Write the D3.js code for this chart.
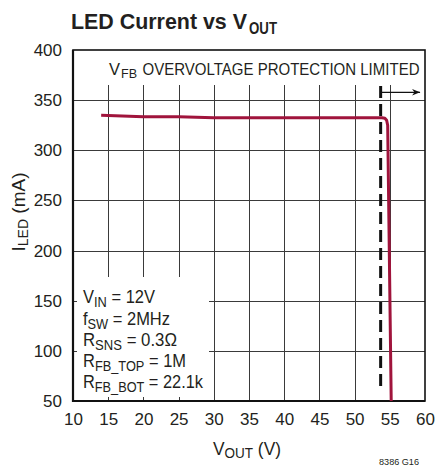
<!DOCTYPE html>
<html><head><meta charset="utf-8">
<script src="https://cdn.jsdelivr.net/npm/d3@7"></script>
<style>
html,body{margin:0;padding:0;background:#fff;}
svg{display:block;}
text{font-family:"Liberation Sans",Arial,sans-serif;fill:#231f20;}
</style></head>
<body>
<script>
// ---- data ----
const xTicks = [10, 15, 20, 25, 30, 35, 40, 45, 50, 55, 60];
const yTicks = [50, 100, 150, 200, 250, 300, 350, 400];
const vout = [14, 20, 25, 30, 35, 40, 45, 50, 53.9, 54.3, 54.55, 54.7, 55.2];
const iled = [335, 333.5, 333.5, 332.5, 332.5, 332.5, 332.5, 332.5, 332.5, 332, 330, 325, 50];
const limitV = 53.7;
const limitRange = [364, 63];
const arrowV = [53.8, 59.3];
const arrowI = 357.8;
const conditions = [
  [["V"], ["IN", 1], [" = 12V"]],
  [["f"], ["SW", 1], [" = 2MHz"]],
  [["R"], ["SNS", 1], [" = 0.3Ω"]],
  [["R"], ["FB_TOP", 1], [" = 1M"]],
  [["R"], ["FB_BOT", 1], [" = 22.1k"]]
];

const W = 435, H = 469;
const svg = d3.select("body").append("svg").attr("width", W).attr("height", H);
const x = d3.scaleLinear().domain([10, 60]).range([73, 425]);
const y = d3.scaleLinear().domain([50, 400]).range([401, 50]);

function richText(t, parts, subSize, subDy) {
  let shifted = false;
  parts.forEach(p => {
    const ts = t.append("tspan").text(p[0]);
    if (p[1]) { ts.attr("font-size", subSize).attr("dy", subDy); shifted = true; }
    else if (shifted) { ts.attr("dy", -subDy); shifted = false; }
  });
  return t;
}
function fitText(xp, yp, str, size, width, extra) {
  const t = svg.append("text").attr("x", xp).attr("y", yp).attr("font-size", size)
    .attr("textLength", width).attr("lengthAdjust", "spacingAndGlyphs").text(str);
  if (extra) Object.entries(extra).forEach(([k, v]) => t.attr(k, v));
  return t;
}

// grid
const grid = svg.append("g").attr("stroke", "#3a3a3a").attr("stroke-width", 1);
xTicks.slice(1, -1).forEach(v => {
  grid.append("line").attr("x1", Math.round(x(v)) + 0.5).attr("x2", Math.round(x(v)) + 0.5)
    .attr("y1", y(400)).attr("y2", y(50));
});
yTicks.slice(1, -1).forEach(v => {
  grid.append("line").attr("y1", Math.round(y(v)) + 0.5).attr("y2", Math.round(y(v)) + 0.5)
    .attr("x1", x(10)).attr("x2", x(60));
});
// white regions for annotations
svg.append("rect").attr("x", x(10)).attr("y", y(400)).attr("width", x(60) - x(10)).attr("height", 35).attr("fill", "#fff");
svg.append("rect").attr("x", x(10)).attr("y", 277).attr("width", 136).attr("height", y(50) - 277).attr("fill", "#fff");
// short ticks inside box
const tk = svg.append("g").attr("stroke", "#3a3a3a").attr("stroke-width", 1);
[15, 20, 25].forEach(v => tk.append("line").attr("x1", Math.round(x(v)) + 0.5).attr("x2", Math.round(x(v)) + 0.5).attr("y1", y(50) - 4).attr("y2", y(50)));
[100, 150].forEach(v => tk.append("line").attr("y1", Math.round(y(v)) + 0.5).attr("y2", Math.round(y(v)) + 0.5).attr("x1", x(10)).attr("x2", x(10) + 4));

// frame
svg.append("rect").attr("x", x(10)).attr("y", y(400)).attr("width", x(60) - x(10)).attr("height", y(50) - y(400))
  .attr("fill", "none").attr("stroke", "#111").attr("stroke-width", 1.6);
svg.append("line").attr("x1", x(10)).attr("x2", x(10)).attr("y1", y(400)).attr("y2", y(50) + 1).attr("stroke", "#111").attr("stroke-width", 2.2);
svg.append("line").attr("x1", x(10)).attr("x2", x(60)).attr("y1", y(50)).attr("y2", y(50)).attr("stroke", "#111").attr("stroke-width", 2.2);

// axes tick labels
const xAxis = d3.axisBottom(x).tickValues(xTicks).tickSize(0).tickPadding(12);
const gx = svg.append("g").attr("transform", `translate(0,${y(50)})`).call(xAxis);
gx.select(".domain").remove();
gx.selectAll("text").attr("font-size", 17).attr("font-family", null).attr("fill", "#231f20");
const yAxis = d3.axisLeft(y).tickValues(yTicks).tickSize(0).tickPadding(11);
const gy = svg.append("g").attr("transform", `translate(${x(10)},0)`).call(yAxis);
gy.select(".domain").remove();
gy.selectAll("text").attr("font-size", 17).attr("font-family", null).attr("fill", "#231f20");

// dashed limit line
svg.append("line").attr("x1", x(limitV)).attr("x2", x(limitV)).attr("y1", y(limitRange[0])).attr("y2", y(limitRange[1]))
  .attr("stroke", "#111").attr("stroke-width", 3).attr("stroke-dasharray", "12,6");

// arrow
svg.append("defs").append("marker").attr("id", "ah").attr("viewBox", "0 0 10 10").attr("refX", 10).attr("refY", 5)
  .attr("markerWidth", 18).attr("markerHeight", 8).attr("markerUnits", "userSpaceOnUse").attr("orient", "auto")
  .append("path").attr("d", "M0,1 L10,5 L0,9 L3,5 Z").attr("fill", "#111");
svg.append("line").attr("x1", x(arrowV[0])).attr("x2", x(arrowV[1])).attr("y1", y(arrowI)).attr("y2", y(arrowI))
  .attr("stroke", "#111").attr("stroke-width", 1.2).attr("marker-end", "url(#ah)");

// curve
const line = d3.line().x((d, i) => x(vout[i])).y((d, i) => y(iled[i])).curve(d3.curveLinear);
svg.append("path").attr("d", line(vout)).attr("fill", "none").attr("stroke", "#a0143c").attr("stroke-width", 3)
  .attr("stroke-linejoin", "round");

// annotation top
fitText(109, 75, "V", 17, 11);
fitText(121, 78, "FB", 13, 16);
svg.append("g").attr("transform", "translate(142.5,75) scale(1,1.12)")
  .append("text").attr("x", 0).attr("y", 0).attr("font-size", 15)
  .attr("textLength", 277).attr("lengthAdjust", "spacingAndGlyphs")
  .text("OVERVOLTAGE PROTECTION LIMITED");

// conditions
const baselines = [303, 324.5, 345.8, 367, 388.3];
const condWidths = [72, 87, 94, 103, 120];
conditions.forEach((parts, i) => {
  const t = svg.append("text").attr("x", 83).attr("y", baselines[i]).attr("font-size", 18)
    .attr("textLength", condWidths[i]).attr("lengthAdjust", "spacingAndGlyphs");
  richText(t, parts, 14, 4);
});

// title
fitText(71, 28.5, "LED Current vs V", 22, 176, {"font-weight": "bold", "fill": "#000"});
fitText(249, 33.5, "OUT", 17, 28, {"font-weight": "bold", "fill": "#000"});

// axis titles
const xt = svg.append("text").attr("x", 213).attr("y", 455).attr("font-size", 18)
  .attr("textLength", 68).attr("lengthAdjust", "spacingAndGlyphs");
richText(xt, [["V"], ["OUT", 1], [" (V)"]], 14, 3);
const yt = svg.append("text").attr("transform", "translate(25,212) rotate(-90)").attr("font-size", 19)
  .attr("text-anchor", "middle");
richText(yt, [["I"], ["LED", 1], [" (mA)"]], 14, 3);

// figure id
svg.append("text").attr("x", 379).attr("y", 465).attr("font-size", 9)
  .attr("textLength", 40).attr("lengthAdjust", "spacingAndGlyphs").text("8386 G16");
</script>
</body></html>
